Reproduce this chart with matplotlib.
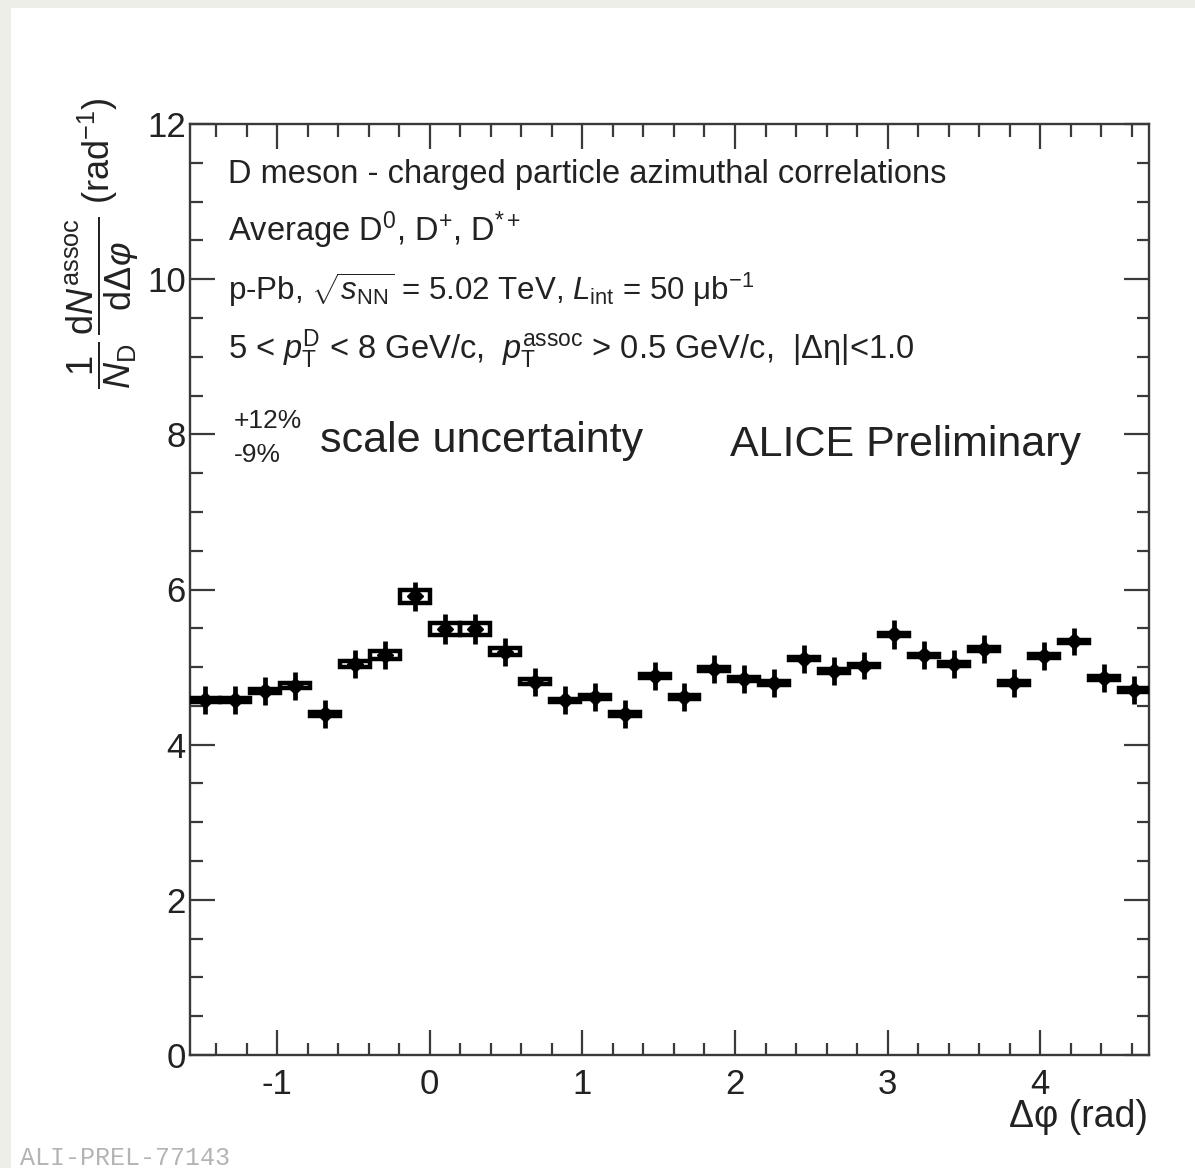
import numpy as np
import matplotlib
matplotlib.use("Agg")
import matplotlib.pyplot as plt
from matplotlib.patches import Rectangle

plt.rcParams['font.family'] = ['Liberation Sans', 'DejaVu Sans']
plt.rcParams['mathtext.fontset'] = 'custom'
plt.rcParams['mathtext.rm'] = 'Liberation Sans'
plt.rcParams['mathtext.it'] = 'Liberation Sans:italic'
plt.rcParams['mathtext.bf'] = 'Liberation Sans:bold'

# 32 bins in delta phi from -pi/2 to 3pi/2
bin_edges = np.linspace(-np.pi / 2, 3 * np.pi / 2, 33)
yields = [4.58, 4.58, 4.69, 4.76, 4.40, 5.04, 5.16, 5.91,
          5.49, 5.49, 5.20, 4.81, 4.57, 4.62, 4.40, 4.88,
          4.61, 4.97, 4.85, 4.80, 5.11, 4.95, 5.02, 5.42,
          5.15, 5.04, 5.23, 4.80, 5.14, 5.33, 4.86, 4.70]
stat_err = [0.18, 0.18, 0.18, 0.18, 0.18, 0.18, 0.18, 0.19,
            0.19, 0.19, 0.18, 0.18, 0.18, 0.18, 0.18, 0.18,
            0.18, 0.18, 0.18, 0.18, 0.18, 0.18, 0.18, 0.19,
            0.18, 0.18, 0.18, 0.18, 0.18, 0.18, 0.18, 0.18]
syst_err = [0.025, 0.025, 0.03, 0.03, 0.025, 0.035, 0.05, 0.08,
            0.08, 0.08, 0.05, 0.03, 0.025, 0.025, 0.025, 0.025,
            0.025, 0.025, 0.025, 0.025, 0.025, 0.025, 0.025, 0.025,
            0.025, 0.025, 0.025, 0.025, 0.025, 0.025, 0.025, 0.025]

centers = 0.5 * (bin_edges[:-1] + bin_edges[1:])
width = bin_edges[1] - bin_edges[0]

W, H = 1195, 1168
fig = plt.figure(figsize=(W / 100, H / 100), dpi=100, facecolor='#eeeee8')
fig.patches.append(Rectangle((11 / W, 0), 1, 1 - 8 / H, transform=fig.transFigure,
                             facecolor='white', edgecolor='none', zorder=-10))

ax = fig.add_axes([190 / W, 1 - 1055 / H, 959 / W, 931 / H])
ax.set_facecolor('white')

for xc, y, s in zip(centers, yields, syst_err):
    ax.add_patch(Rectangle((xc - width / 2, y - s), width, 2 * s,
                           facecolor='none', edgecolor='black', lw=3.2, zorder=3))
ax.errorbar(centers, yields, yerr=stat_err, fmt='D', color='black', ms=8,
            elinewidth=3.4, capsize=0, zorder=4)

ax.set_xlim(bin_edges[0], bin_edges[-1])
ax.set_ylim(0, 12)
ax.set_xticks(np.arange(-1, 5, 1))
ax.set_xticks(np.arange(-1.4, 4.75, 0.2), minor=True)
ax.set_yticks(np.arange(0, 13, 2))
ax.set_yticks(np.arange(0, 12.1, 0.5), minor=True)
ax.set_xticklabels(['-1', '0', '1', '2', '3', '4'])

spine_col = '#3a3a3a'
for sp in ax.spines.values():
    sp.set_color(spine_col)
    sp.set_linewidth(1.7)
ax.tick_params(which='both', direction='in', top=True, right=True, color=spine_col,
               width=1.6, labelsize=25, labelcolor='#222222')
ax.tick_params(which='major', length=18)
ax.tick_params(which='minor', length=9)
ax.tick_params(axis='x', pad=9)
ax.tick_params(axis='y', pad=3)


def axpos(px, py):
    return (px - 190) / 959, (1055 - py) / 931


tsize = 23.5
tcol = '#222222'
ax.text(*axpos(228, 183), 'D meson - charged particle azimuthal correlations',
        transform=ax.transAxes, fontsize=tsize, va='baseline', color=tcol)
ax.text(*axpos(228, 241), r'Average D$^{0}$, D$^{+}$, D$^{*+}$',
        transform=ax.transAxes, fontsize=tsize, va='baseline', color=tcol)
ax.text(*axpos(228, 300), r'p-Pb, $\sqrt{s_{\rm NN}}$ = 5.02 TeV, $L_{\rm int}$ = 50 μb$^{-1}$',
        transform=ax.transAxes, fontsize=22.5, va='baseline', color=tcol)
ax.text(*axpos(228, 359),
        r'5 < $p_{\rm T}^{\rm D}$ < 8 GeV/c,  $p_{\rm T}^{\rm assoc}$ > 0.5 GeV/c,  |Δη|<1.0',
        transform=ax.transAxes, fontsize=tsize, va='baseline', color=tcol)
ax.text(*axpos(234, 428), '+12%', transform=ax.transAxes, fontsize=19,
        va='baseline', color=tcol)
ax.text(*axpos(234, 462), '-9%', transform=ax.transAxes, fontsize=19,
        va='baseline', color=tcol)
ax.text(*axpos(320, 452), 'scale uncertainty', transform=ax.transAxes, fontsize=31,
        va='baseline', color=tcol)
ax.text(*axpos(730, 456), 'ALICE Preliminary', transform=ax.transAxes, fontsize=31,
        va='baseline', color=tcol)

fig.text(102 / W, 1 - 98 / H,
         r'$\dfrac{1}{N_{\rm D}}\,\dfrac{{\rm d}N^{\rm assoc}}{{\rm d}\Delta\varphi}$ (rad$^{-1}$)',
         rotation=90, ha='center', va='top', fontsize=26, color=tcol)
fig.text(1148 / W, 1 - 1117 / H, 'Δφ (rad)', ha='right', va='center',
         fontsize=27, color=tcol)
fig.text(20 / W, 1 - 1158 / H, 'ALI-PREL-77143', ha='left', va='center',
         fontsize=18, family='Liberation Mono', color='#b4b4b4')

fig.savefig('out.png', dpi=100, facecolor=fig.get_facecolor())
